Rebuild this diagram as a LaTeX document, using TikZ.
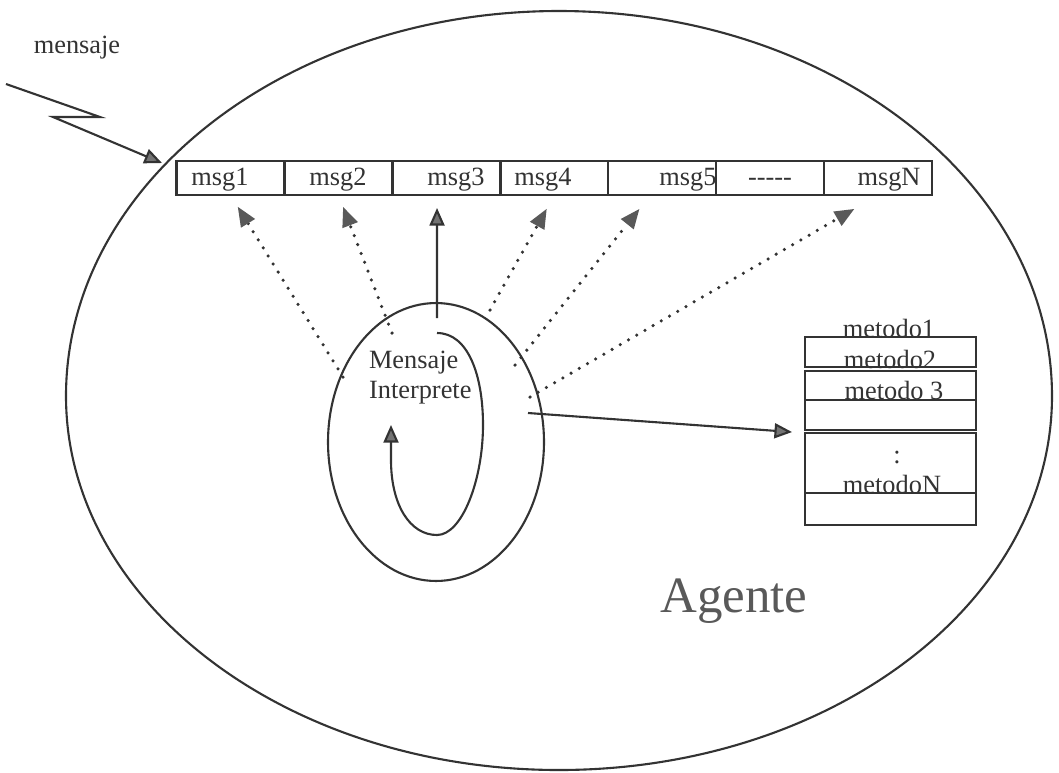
\documentclass[tikz,border=0pt]{standalone}
\usepackage{fontspec}
\setmainfont{Liberation Serif}
\usetikzlibrary{positioning,arrows.meta,shapes.geometric}

\begin{document}
\begin{tikzpicture}[x=0.02cm,y=-0.02cm,color=black!80,line width=1.2pt,
  every node/.style={font=\fontsize{15}{17}\selectfont},
  msgcell/.style={draw,rectangle,minimum width=2.16cm,minimum height=0.68cm,inner sep=0,outer sep=0},
  metrow/.style={draw,rectangle,minimum width=3.42cm,inner sep=0,outer sep=0},
  lbl/.style={anchor=base,inner sep=0},
  arr/.style={-{Triangle[length=10pt 0 0,width=8.5pt 0 0,fill=black!55]}},
  dotline/.style={-{Triangle[length=11pt 0 0,width=9.5pt 0 0,line width=0pt,fill=black!65]},
    line width=2pt,dash pattern=on 0pt off 5.4pt,line cap=round}]
		\useasboundingbox (0,0) rectangle (1059,772);

		% agente
		\draw (66,396) arc[start angle=180,end angle=360,x radius=493,y radius=385]
			arc[start angle=0,end angle=180,x radius=493,y radius=374];
		\node[lbl,font=\fontsize{29}{34}\selectfont,text=black!65] (agente) at (734,612) {Agente};

		% mensaje entrante
		\node[lbl] (mensaje) at (77,53) {mensaje};
		\coordinate (src) at (6,84);
		\coordinate (entry) at (162,163);
		\draw[arr] (src) -- (100,117) -- (53,117) -- (entry);

		% cola de mensajes
		\node[msgcell] (m1) at (230.5,178) {};
		\node[msgcell,right=0pt of m1] (m2) {};
		\node[msgcell,right=0pt of m2] (m3) {};
		\node[msgcell,right=0pt of m3] (m4) {};
		\node[msgcell,right=0pt of m4] (m5) {};
		\node[msgcell,right=0pt of m5] (m6) {};
		\node[msgcell,right=0pt of m6] (m7) {};
		\path (220,185) node[lbl] (l1) {msg1}
			(338,185) node[lbl] (l2) {msg2}
			(456,185) node[lbl] (l3) {msg3}
			(543,185) node[lbl] (l4) {msg4}
			(688,185) node[lbl] (l5) {msg5}
			(770,185) node[lbl] (l6) {-{}-{}-{}-{}-}
			(889,185) node[lbl] (l7) {msgN};

		% interprete
		\node[draw,ellipse,minimum width=4.32cm,minimum height=5.56cm,inner sep=0] (interp) at (436,442) {};
		\node[lbl,anchor=base west] (msj) at (368,368) {Mensaje};
		\node[lbl,anchor=base west] (intp) at (368,398) {Interprete};
		\draw[arr] (437,333) .. controls (468,333) and (483,375) .. (483,425)
			.. controls (483,480) and (462,535) .. (437,535)
			.. controls (410,535) and (391,505) .. (391,460) -- (391,425);

		% metodos
		\node[metrow,minimum height=0.6cm] (met1) at (890.5,352) {};
		\node[metrow,minimum height=0.58cm,below=0.08cm of met1] (met2) {};
		\node[metrow,minimum height=0.6cm,below=0pt of met2] (met3) {};
		\node[metrow,minimum height=1.2cm,below=0.06cm of met3] (met4) {};
		\node[metrow,minimum height=0.64cm,below=0pt of met4] (met5) {};
		\path (889,337) node[lbl] (t1) {metodo1}
			(890,368) node[lbl] (t2) {metodo2}
			(894,399) node[lbl] (t3) {metodo 3}
			(897,463) node[lbl] (t4) {:}
			(892,493) node[lbl] (t5) {metodoN};

		% conexiones
		\coordinate (o1) at (343,377);
		\coordinate (o2) at (392,333);
		\coordinate (o3) at (437,318);
		\coordinate (o4) at (490,310);
		\coordinate (o5) at (515,365);
		\coordinate (o6) at (530,397);
		\coordinate (o7) at (528,413);
		\draw[dotline,shorten >=0.28cm] (o1) -- (m1.south);
		\draw[dotline,shorten >=0.26cm] (o2) -- (m2.south);
		\draw[arr,shorten >=0.26cm] (o3) -- (m3.-119);
		\draw[dotline,shorten >=0.32cm] (o4) -- (m4.south);
		\draw[dotline,shorten >=0.36cm] (o5) -- (m5.-125);
		\draw[dotline,shorten >=0.56cm] (o6) -- (m7.south);
		\draw[arr,shorten >=0.26cm] (o7) -- (met4.north west);
	\end{tikzpicture}
\end{document}
